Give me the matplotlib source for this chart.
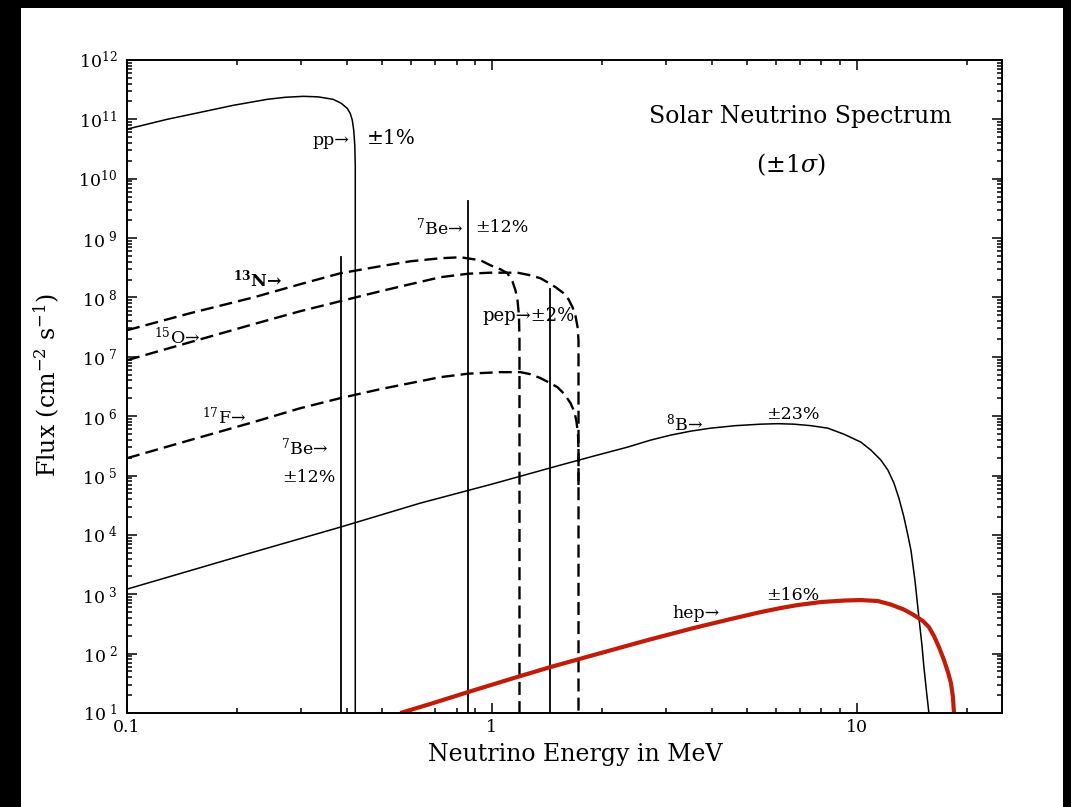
import matplotlib
matplotlib.use("Agg")
import matplotlib.pyplot as plt
from matplotlib.patches import Rectangle
from matplotlib.ticker import LogLocator, NullFormatter

plt.rcParams["font.family"] = ["DejaVu Serif"]
plt.rcParams["mathtext.fontset"] = "dejavuserif"

# --- Spektren: Energie in MeV, Fluss in cm^-2 s^-1 ---
pp_energy = [0.1, 0.1288, 0.1586, 0.1954, 0.2421, 0.2713, 0.3041, 0.3342, 0.3674, 0.3865, 0.4014,
             0.4090, 0.4143, 0.4182, 0.4209, 0.4222, 0.4222]
pp_flux = [6.84e10, 1.0e11, 1.31e11, 1.72e11, 2.17e11, 2.35e11, 2.44e11, 2.39e11, 2.17e11, 1.86e11, 1.53e11,
           1.26e11, 9.7e10, 6.5e10, 3.65e10, 1.64e10, 10]

n13_energy = [0.1, 0.1489, 0.222, 0.2983, 0.3841, 0.4943, 0.5975, 0.7225, 0.8196, 0.9298, 0.9905,
              1.055, 1.103, 1.138, 1.160, 1.175, 1.186, 1.190, 1.190]
n13_flux = [2.8e7, 5.42e7, 1.0e8, 1.67e8, 2.55e8, 3.35e8, 4.06e8, 4.57e8, 4.75e8, 4.23e8, 3.48e8,
            2.98e8, 2.55e8, 1.87e8, 1.32e8, 8.97e7, 5.0e7, 1.9e7, 10]

o15_energy = [0.1, 0.1489, 0.222, 0.2983, 0.3841, 0.4943, 0.5975, 0.7225, 0.862, 0.9905, 1.175,
              1.275, 1.359, 1.420, 1.494, 1.571, 1.621, 1.663, 1.695, 1.717, 1.727, 1.727]
o15_flux = [8.76e6, 1.76e7, 3.54e7, 5.86e7, 8.63e7, 1.27e8, 1.67e8, 2.19e8, 2.51e8, 2.61e8, 2.61e8,
            2.36e8, 2.10e8, 1.80e8, 1.49e8, 1.18e8, 9.33e7, 6.84e7, 4.83e7, 3.15e7, 1.9e7, 10]

f17_energy = [0.1, 0.1489, 0.222, 0.2983, 0.3841, 0.4943, 0.5975, 0.7225, 0.862, 1.055, 1.197,
              1.275, 1.359, 1.429, 1.512, 1.580, 1.642, 1.684, 1.706, 1.722, 1.727, 1.727]
f17_flux = [1.96e5, 3.95e5, 7.93e5, 1.36e6, 2.01e6, 2.85e6, 3.6e6, 4.54e6, 5.2e6, 5.51e6, 5.51e6,
            5.09e6, 4.37e6, 3.73e6, 3.08e6, 2.35e6, 1.66e6, 1.17e6, 7.93e5, 4.79e5, 2.68e5, 6.9e4]

b8_energy = [0.1, 0.2175, 0.3841, 0.6366, 1.0, 1.542, 1.898, 2.354, 2.722, 3.088, 3.504, 3.977,
             4.656, 5.453, 6.072, 6.717, 7.477, 8.326, 9.21, 10.26, 10.93, 11.64, 12.17, 12.64,
             13.04, 13.46, 13.80, 14.07, 14.43, 14.79, 15.08, 15.27, 15.56, 15.76]
b8_flux = [1.22e3, 4.94e3, 1.35e4, 3.43e4, 7.16e4, 1.50e5, 2.12e5, 3.01e5, 3.95e5, 4.79e5, 5.59e5, 6.28e5,
           6.92e5, 7.33e5, 7.47e5, 7.33e5, 6.92e5, 6.28e5, 4.98e5, 3.65e5, 2.68e5, 1.82e5, 1.23e5, 7.45e4,
           4.17e4, 2.0e4, 9.9e3, 5.54e3, 1.73e3, 413, 140, 59.4, 20, 10]

hep_energy = [0.561, 0.6782, 0.862, 1.124, 1.447, 1.985, 2.671, 3.572, 4.511, 5.453, 6.186, 6.888,
              7.965, 9.21, 10.26, 11.42, 12.40, 13.46, 14.33, 15.18, 15.76, 16.27, 16.79, 17.33,
              17.77, 18.11, 18.34, 18.46]
hep_flux = [10, 14.2, 22.6, 37.3, 59.4, 102, 169, 270, 382, 501, 586, 658,
            739, 783, 798, 769, 671, 552, 447, 354, 280, 198, 129, 78,
            49, 32, 18.6, 10]

# Linienquellen (7Be: 0.384 und 0.862 MeV, pep: 1.44 MeV)
be7_energy = [0.3865, 0.862]
be7_flux = [4.75e8, 4.17e9]
pep_energy = 1.447
pep_flux = 1.37e8

x_ticks = [0.1, 1, 10]
x_ticklabels = ["0.1", "1", "10"]
y_exponents = list(range(1, 13))
y_ticklabels = [r"$10^{\ %d}$" % e if e < 10 else r"$10^{%d}$" % e for e in y_exponents]

FLUX_MIN = 10

# --- Plot ---
fig = plt.figure(figsize=(10.71, 8.07), dpi=100)
ax = fig.add_axes([0.1186, 0.1165, 0.8170, 0.8092])

ax.plot(pp_energy, pp_flux, color="k", lw=1.1)
ax.plot(b8_energy, b8_flux, color="k", lw=1.1)
for e, f in zip(be7_energy, be7_flux):
    ax.plot([e, e], [FLUX_MIN, f], color="k", lw=1.3)
ax.plot([pep_energy, pep_energy], [FLUX_MIN, pep_flux], color="k", lw=1.3)

dash = (5.5, 2.6)
ax.plot(n13_energy, n13_flux, color="k", lw=1.7, dashes=dash)
ax.plot(o15_energy, o15_flux, color="k", lw=1.7, dashes=dash)
ax.plot(f17_energy, f17_flux, color="k", lw=1.7, dashes=dash)

ax.plot(hep_energy, hep_flux, color="#c01c0a", lw=3.0, solid_capstyle="butt")

ax.set_xscale("log")
ax.set_yscale("log")
ax.set_xlim(0.1, 25)
ax.set_ylim(10, 1e12)

ax.set_xticks(x_ticks)
ax.set_xticklabels(x_ticklabels)
ax.set_yticks([10.0 ** e for e in y_exponents])
ax.set_yticklabels(y_ticklabels)
ax.xaxis.set_minor_locator(LogLocator(base=10, subs=range(2, 10), numticks=20))
ax.yaxis.set_minor_locator(LogLocator(base=10, subs=range(2, 10), numticks=20))
ax.xaxis.set_minor_formatter(NullFormatter())
ax.yaxis.set_minor_formatter(NullFormatter())

ax.tick_params(which="both", direction="in", top=True, right=True, width=1.1, labelsize=12.5)
ax.tick_params(which="major", length=7)
ax.tick_params(which="minor", length=3.5)
ax.tick_params(axis="x", pad=4)
ax.tick_params(axis="y", pad=7)
for s in ax.spines.values():
    s.set_linewidth(1.4)

ax.set_xlabel("Neutrino Energy in MeV", fontsize=17)
ax.xaxis.set_label_coords(0.512, -0.046)
ax.set_ylabel(r"Flux (cm$^{-2}$ s$^{-1}$)", fontsize=17)
ax.yaxis.set_label_coords(-0.074, 0.502)

# --- Beschriftungen ---
fs = 12.5
ax.text(0.770, 0.913, "Solar Neutrino Spectrum", transform=ax.transAxes, fontsize=17, ha="center", va="center")
ax.text(0.758, 0.839, r"($\pm$1$\sigma$)", transform=ax.transAxes, fontsize=17, ha="center", va="center")

ax.text(0.406, 4.4e10, "pp→", fontsize=fs, ha="right", va="center")
ax.text(0.453, 4.8e10, "±1%", fontsize=14.5, ha="left", va="center")
ax.text(0.835, 1.51e9, r"$^{7}$Be→", fontsize=fs, ha="right", va="center")
ax.text(0.901, 1.51e9, "±12%", fontsize=fs, ha="left", va="center")
ax.text(0.266, 2.02e8, r"$^{\mathbf{13}}$N→", fontsize=fs, ha="right", va="center", fontweight="bold")
ax.text(0.1586, 2.14e7, r"$^{15}$O→", fontsize=fs, ha="right", va="center")
ax.text(0.942, 4.8e7, "pep→±2%", fontsize=fs + 0.5, ha="left", va="center")
ax.text(0.212, 9.6e5, r"$^{17}$F→", fontsize=fs, ha="right", va="center")
ax.text(0.356, 3.0e5, r"$^{7}$Be→", fontsize=fs, ha="right", va="center")
ax.text(0.372, 9.4e4, "±12%", fontsize=fs, ha="right", va="center")
ax.text(3.78, 7.6e5, r"$^{8}$B→", fontsize=fs, ha="right", va="center")
ax.text(5.63, 1.08e6, "±23%", fontsize=fs, ha="left", va="center")
ax.text(4.21, 483, "hep→", fontsize=fs, ha="right", va="center")
ax.text(5.63, 970, "±16%", fontsize=fs, ha="left", va="center")

# schwarzer Rand
W, H = 1071, 807
for x0, y0, w, h in [(0, 0, 21, H), (0, H - 8, W, 8), (1063, 0, 8, H)]:
    fig.add_artist(Rectangle((x0 / W, y0 / H), w / W, h / H, transform=fig.transFigure,
                             facecolor="black", edgecolor="none"))

fig.savefig("out.png", dpi=100, facecolor="white")
